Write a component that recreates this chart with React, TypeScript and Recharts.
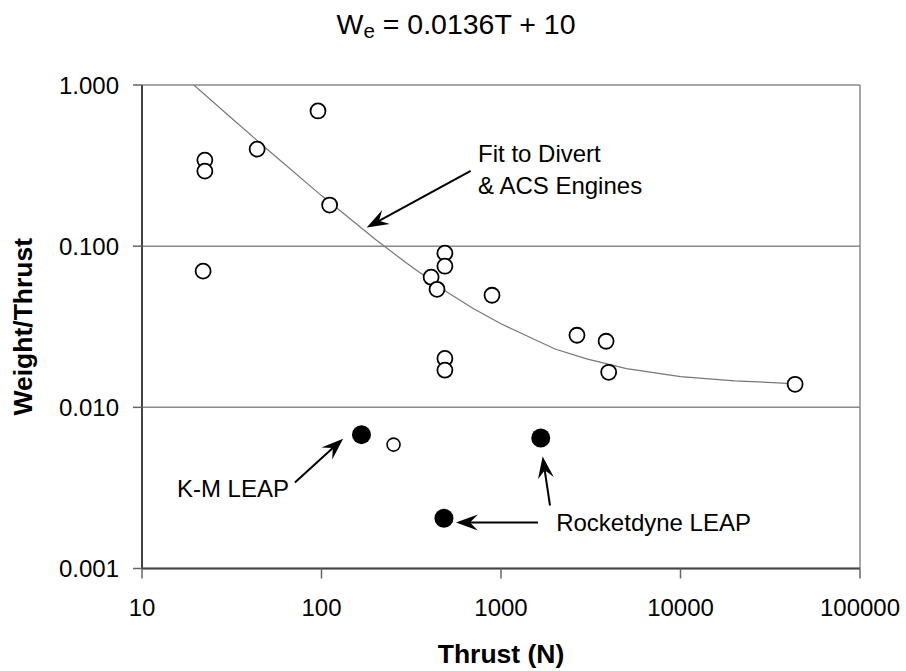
import {
  ScatterChart,
  Scatter,
  XAxis,
  YAxis,
  CartesianGrid,
  ReferenceLine,
  ReferenceDot,
} from "recharts";

// ─── Data (thrust in N, weight/thrust ratio) ─────────────
const divertThrust = [22.4, 22.4, 21.9, 43.8, 95.6, 111, 487, 487, 408, 440, 891, 2650, 3850, 3980, 43500, 487, 487];
const divertRatio = [0.342, 0.292, 0.07, 0.4, 0.69, 0.18, 0.0905, 0.0751, 0.0642, 0.054, 0.0496, 0.028, 0.0257, 0.0165, 0.0139, 0.0201, 0.017];

const smallThrust = [252];
const smallRatio = [0.00587];

const leapThrust = [167, 1665, 481];
const leapRatio = [0.00677, 0.00645, 0.00205];

const fitThrust = [17, 30, 50, 100, 200, 300, 500, 700, 1000, 2000, 3000, 5000, 10000, 20000, 45000];
const fitRatio = [1.14, 0.654, 0.398, 0.206, 0.11, 0.078, 0.052, 0.041, 0.033, 0.023, 0.02, 0.0174, 0.0155, 0.0146, 0.014];

const xTicks = [10, 100, 1000, 10000, 100000];
const yTicks = [0.001, 0.01, 0.1, 1];

// annotation anchors, in data units
const noteText = ["Fit to Divert", "& ACS Engines", "K-M LEAP", "Rocketdyne LEAP"];
const noteX = [745, 745, 32.1, 7080];
const noteY = [0.3745, 0.2393, 0.00314, 0.00193];
const noteAnchor = ["start", "start", "middle", "middle"];

// arrows: tail -> tip
const arrowFrom = [
  { x: 678, y: 0.2937 },
  { x: 71.1, y: 0.00342 },
  { x: 1607, y: 0.00193 },
  { x: 1875, y: 0.00246 },
];
const arrowTo = [
  { x: 178.6, y: 0.1306 },
  { x: 132, y: 0.00639 },
  { x: 561, y: 0.00193 },
  { x: 1706, y: 0.00496 },
];

const zip = (xs: number[], ys: number[]) => xs.map((x, i) => ({ x, y: ys[i] }));

const FONT = '"Liberation Sans", Arial, sans-serif';

// ─── Shapes ──────────────────────────────────────
const OpenDot = (r: number, w: number) => (p: any) =>
  <circle cx={p.cx} cy={p.cy} r={r} fill="#fff" stroke="#000" strokeWidth={w} />;

const FilledDot = (p: any) => <circle cx={p.cx} cy={p.cy} r={9.5} fill="#000" />;

function Arrow(p: any) {
  const { x1, y1, x2, y2 } = p;
  const a = Math.atan2(y2 - y1, x2 - x1);
  const len = 22;
  const half = 8;
  const notch = 14;
  const cos = Math.cos(a);
  const sin = Math.sin(a);
  const bx = x2 - len * cos;
  const by = y2 - len * sin;
  const nx = x2 - notch * cos;
  const ny = y2 - notch * sin;
  const pts = [
    [x2, y2],
    [bx - half * sin, by + half * cos],
    [nx, ny],
    [bx + half * sin, by - half * cos],
  ]
    .map((q) => q.join(","))
    .join(" ");
  return (
    <g>
      <line x1={x1} y1={y1} x2={nx} y2={ny} stroke="#000" strokeWidth={2} />
      <polygon points={pts} fill="#000" />
    </g>
  );
}

const Note = (text: string, anchor: string) => (p: any) =>
  (
    <text
      x={p.cx}
      y={p.cy}
      textAnchor={anchor as any}
      dominantBaseline="central"
      fontSize={24}
      fontFamily={FONT}
      fill="#000"
    >
      {text}
    </text>
  );

function YTitle(props: any) {
  const vb = props.viewBox;
  const cx = vb.x + 23;
  const cy = vb.y + vb.height / 2;
  return (
    <text
      x={cx}
      y={cy}
      transform={`rotate(-90 ${cx} ${cy})`}
      textAnchor="middle"
      dominantBaseline="central"
      fontSize={26.5}
      fontWeight="bold"
      fontFamily={FONT}
      fill="#000"
    >
      Weight/Thrust
    </text>
  );
}

function XTitle(props: any) {
  const vb = props.viewBox;
  return (
    <text
      x={vb.x + vb.width / 2}
      y={vb.y + 94}
      textAnchor="middle"
      fontSize={26.5}
      fontWeight="bold"
      fontFamily={FONT}
      fill="#000"
    >
      Thrust (N)
    </text>
  );
}

// ─── Chart ───────────────────────────────────────
export default function App() {
  const tickStyle = { fontSize: 24, fill: "#000", fontFamily: FONT };

  return (
    <div style={{ position: "absolute", left: 0, top: 0, width: 906, height: 671, background: "#fff" }}>
      <div
        style={{
          position: "absolute",
          left: 0,
          top: 10,
          width: 912,
          textAlign: "center",
          fontFamily: FONT,
          fontSize: 28.5,
          lineHeight: "28px",
          color: "#000",
        }}
      >
        W<sub style={{ fontSize: "0.72em", verticalAlign: "-0.2em", lineHeight: 0 }}>e</sub> = 0.0136T + 10
      </div>

      <ScatterChart width={906} height={671} margin={{ top: 85, right: 46, bottom: 0, left: 0 }}>
        <CartesianGrid vertical={false} stroke="#8a8a8a" strokeWidth={1.5} />

        <XAxis
          type="number"
          dataKey="x"
          scale="log"
          domain={[10, 100000]}
          ticks={xTicks}
          interval={0}
          height={102.5}
          tick={tickStyle}
          tickSize={10}
          tickMargin={20}
          axisLine={{ stroke: "#444", strokeWidth: 2 }}
          tickLine={{ stroke: "#666", strokeWidth: 1.5 }}
          label={{ content: XTitle }}
        />
        <YAxis
          type="number"
          dataKey="y"
          scale="log"
          domain={[0.001, 1]}
          allowDataOverflow
          ticks={yTicks}
          interval={0}
          width={142}
          tick={tickStyle}
          tickSize={9}
          tickMargin={14}
          tickFormatter={(v: number) => v.toFixed(3)}
          axisLine={{ stroke: "#444", strokeWidth: 2 }}
          tickLine={{ stroke: "#666", strokeWidth: 1.5 }}
          label={{ content: YTitle }}
        />

        <ReferenceLine x={100000} stroke="#8a8a8a" strokeWidth={1.5} />

        <Scatter
          data={zip(fitThrust, fitRatio)}
          line={{ stroke: "#777", strokeWidth: 1.2 }}
          shape={() => null}
          isAnimationActive={false}
        />
        <Scatter data={zip(divertThrust, divertRatio)} shape={OpenDot(7.5, 1.8)} isAnimationActive={false} />
        <Scatter data={zip(smallThrust, smallRatio)} shape={OpenDot(6.5, 1.6)} isAnimationActive={false} />
        <Scatter data={zip(leapThrust, leapRatio)} shape={FilledDot} isAnimationActive={false} />

        {arrowFrom.map((a, i) => (
          <ReferenceLine key={"a" + i} segment={[a, arrowTo[i]]} ifOverflow="visible" shape={Arrow} />
        ))}
        {noteText.map((t, i) => (
          <ReferenceDot
            key={"n" + i}
            x={noteX[i]}
            y={noteY[i]}
            r={0}
            ifOverflow="visible"
            shape={Note(t, noteAnchor[i])}
          />
        ))}
      </ScatterChart>
    </div>
  );
}
